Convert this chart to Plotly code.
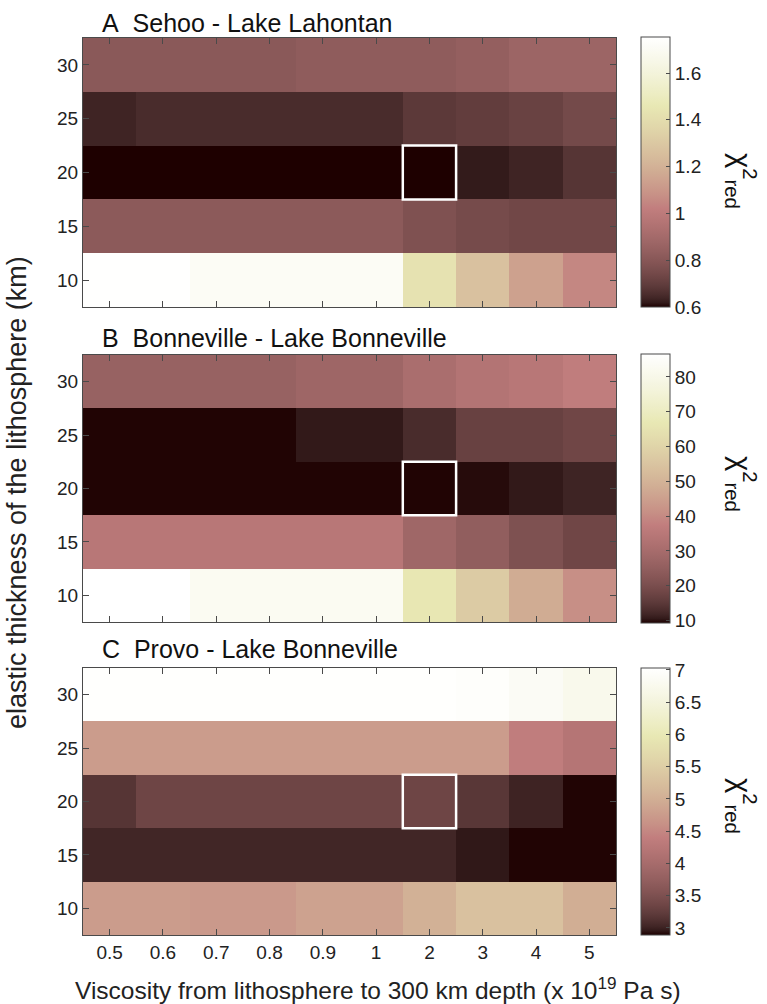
import numpy as np
import plotly.graph_objects as go

# ---------------- data ----------------
viscosity_labels = ["0.5", "0.6", "0.7", "0.8", "0.9", "1", "2", "3", "4", "5"]
thickness_km = [10, 15, 20, 25, 30]

# rows follow thickness_km (10, 15, 20, 25, 30)
chi2_sehoo = [
    [1.75, 1.75, 1.71, 1.71, 1.71, 1.71, 1.43, 1.27, 1.14, 1.05],
    [0.815, 0.815, 0.815, 0.815, 0.815, 0.815, 0.775, 0.75, 0.735, 0.735],
    [0.60, 0.60, 0.60, 0.60, 0.60, 0.60, 0.60, 0.62, 0.635, 0.675],
    [0.635, 0.652, 0.652, 0.652, 0.652, 0.652, 0.687, 0.70, 0.716, 0.745],
    [0.81, 0.81, 0.81, 0.81, 0.825, 0.825, 0.825, 0.84, 0.87, 0.87],
]
chi2_bonneville = [
    [86.6, 86.6, 82.7, 82.7, 82.7, 82.7, 66.5, 57.2, 48.0, 41.0],
    [34.8, 34.8, 34.8, 34.8, 34.8, 34.8, 28.2, 24.8, 20.9, 18.2],
    [9.5, 9.5, 9.5, 9.5, 9.5, 9.5, 9.5, 9.8, 10.5, 11.6],
    [9.5, 9.5, 9.5, 9.5, 10.5, 10.5, 12.8, 17.0, 17.0, 18.2],
    [26.3, 26.3, 26.3, 26.3, 27.9, 27.9, 31.0, 33.3, 34.8, 37.1],
]
chi2_provo = [
    [4.75, 4.75, 4.72, 4.72, 4.84, 4.84, 5.04, 5.29, 5.29, 5.0],
    [3.03, 3.03, 3.03, 3.03, 3.03, 3.03, 3.03, 2.95, 2.90, 2.90],
    [3.16, 3.35, 3.35, 3.35, 3.35, 3.35, 3.35, 3.18, 3.01, 2.90],
    [4.75, 4.75, 4.75, 4.75, 4.75, 4.75, 4.75, 4.75, 4.38, 4.21],
    [7.0, 7.0, 7.0, 7.0, 7.0, 7.0, 7.0, 6.97, 6.86, 6.74],
]

panel_titles = ["A\u00a0\u00a0Sehoo - Lake Lahontan",
                "B\u00a0\u00a0Bonneville - Lake Bonneville",
                "C\u00a0\u00a0Provo - Lake Bonneville"]
color_ranges = [(0.6, 1.754), (9.3, 86.6), (2.89, 7.03)]
color_dticks = [0.2, 10, 0.5]
color_tick0 = [0.6, 10, 3]
best_fit = ("2", 20)  # highlighted cell

# ---------------- MATLAB "pink" colormap (64 levels) ----------------
def pink_scale(m=64):
    n = int(3 * m / 8)
    idx = np.arange(1, m + 1)
    r_hot = np.minimum(idx / n, 1.0)
    g_hot = np.clip((idx - n) / n, 0, 1)
    b_hot = np.clip((idx - 2 * n) / (m - 2 * n), 0, 1)
    gray = np.linspace(0, 1, m)
    r = np.sqrt((2 * gray + r_hot) / 3)
    g = np.sqrt((2 * gray + g_hot) / 3)
    b = np.sqrt((2 * gray + b_hot) / 3)
    t = np.linspace(0, 1, m)
    return [[float(tt), "rgb(%d,%d,%d)" % (round(rr * 255), round(gg * 255), round(bb * 255))]
            for tt, rr, gg, bb in zip(t, r, g, b)]

pink = pink_scale(64)

W, H = 767, 1004
def px(x):
    return x / W
def py(y):
    return 1 - y / H

FONT = "Liberation Sans, Arial, Helvetica, sans-serif"
frame_col = "#4a4a4a"

plot_x = (83, 616)
plot_y = [(38, 307), (355, 622), (668, 935)]
cbar_y = [(37, 307), (354, 623), (668, 935)]
title_y = [23, 338, 649]
chi_y = [181, 484, 806]

fig = go.Figure()
datasets = [chi2_sehoo, chi2_bonneville, chi2_provo]

for i, z in enumerate(datasets):
    xa = "x" if i == 0 else "x%d" % (i + 1)
    ya = "y" if i == 0 else "y%d" % (i + 1)
    zmin, zmax = color_ranges[i]
    fig.add_trace(go.Heatmap(
        x=viscosity_labels, y=thickness_km, z=z,
        colorscale=pink, zmin=zmin, zmax=zmax,
        xaxis=xa, yaxis=ya, hoverinfo="skip",
        colorbar=dict(
            x=px(641), xanchor="left", xpad=0, ypad=0,
            y=py(cbar_y[i][0]), yanchor="top",
            len=(cbar_y[i][1] - cbar_y[i][0]) / H, lenmode="fraction",
            thickness=29, thicknessmode="pixels",
            outlinecolor=frame_col, outlinewidth=1,
            ticks="inside", ticklen=4, tickcolor=frame_col,
            tick0=color_tick0[i], dtick=color_dticks[i],
            tickfont=dict(family=FONT, size=19, color="#222"),
        ),
    ))
    axis_common = dict(showline=True, linecolor=frame_col, linewidth=1, mirror="ticks",
                       ticks="inside", ticklen=6, tickcolor=frame_col,
                       showgrid=False, zeroline=False)
    fig.layout[("xaxis" if i == 0 else "xaxis%d" % (i + 1))] = dict(
        domain=[px(plot_x[0]), px(plot_x[1])], anchor=ya, type="category",
        categoryorder="array", categoryarray=viscosity_labels,
        range=[-0.5, len(viscosity_labels) - 0.5],
        showticklabels=(i == 2), tickfont=dict(family=FONT, size=19, color="#222"),
        **axis_common)
    fig.layout[("yaxis" if i == 0 else "yaxis%d" % (i + 1))] = dict(
        domain=[py(plot_y[i][1]), py(plot_y[i][0])], anchor=xa,
        range=[7.5, 32.5], tickvals=thickness_km,
        tickfont=dict(family=FONT, size=19, color="#222"),
        **axis_common)

    bi = viscosity_labels.index(best_fit[0])
    fig.add_shape(type="rect", xref=xa, yref=ya,
                  x0=bi - 0.5, x1=bi + 0.5, y0=best_fit[1] - 2.5, y1=best_fit[1] + 2.5,
                  line=dict(color="white", width=2.5))

    fig.add_annotation(text=panel_titles[i], xref="paper", yref="paper",
                       x=px(100), y=py(title_y[i]), xanchor="left", yanchor="middle",
                       showarrow=False, font=dict(family=FONT, size=25, color="#111"))
    fig.add_annotation(text="χ<sup>2</sup><sub>red</sub>", xref="paper", yref="paper",
                       x=px(741), y=py(chi_y[i]), xanchor="center", yanchor="middle",
                       textangle=90, showarrow=False,
                       font=dict(family=FONT, size=29, color="#111"))

fig.add_annotation(text="Viscosity from lithosphere to 300 km depth (x 10<sup>19</sup> Pa s)",
                   xref="paper", yref="paper", x=px(378), y=py(988),
                   xanchor="center", yanchor="middle", showarrow=False,
                   font=dict(family=FONT, size=24.5, color="#222"))
fig.add_annotation(text="elastic thickness of the lithosphere (km)",
                   xref="paper", yref="paper", x=px(17), y=py(493),
                   xanchor="center", yanchor="middle", textangle=-90, showarrow=False,
                   font=dict(family=FONT, size=27, color="#222"))

fig.update_layout(width=W, height=H, margin=dict(l=0, r=0, t=0, b=0),
                  paper_bgcolor="white", plot_bgcolor="white", showlegend=False)

fig.write_html("out.html")
